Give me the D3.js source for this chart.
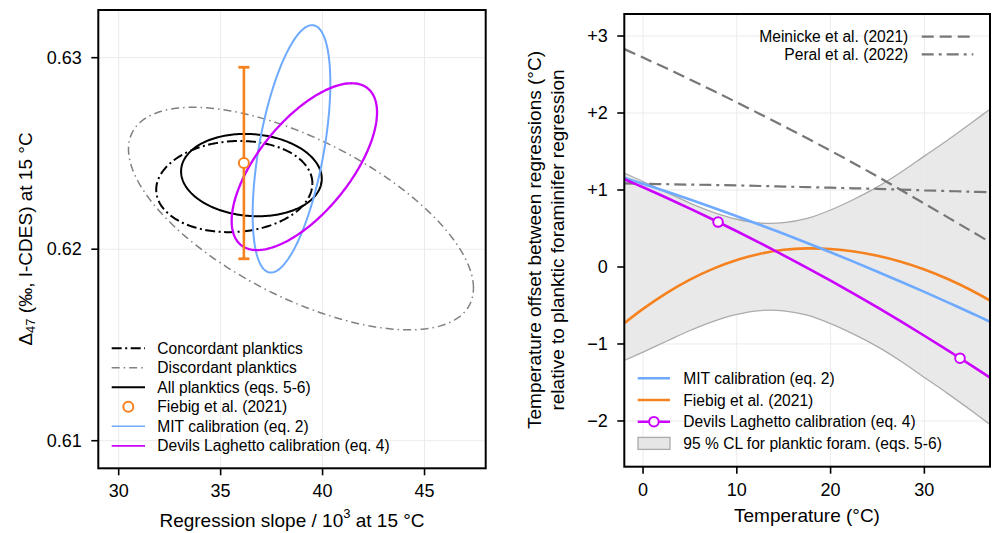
<!DOCTYPE html>
<html>
<head>
<meta charset="utf-8">
<script src="https://cdn.jsdelivr.net/npm/d3@7"></script>
<style>
  body { margin: 0; background: #fff; }
  svg text { font-family: "Liberation Sans", Arial, Helvetica, sans-serif; fill: #000; }
</style>
</head>
<body>
<svg id="fig" width="995" height="533"></svg>
<script>
// ---- left panel data: confidence ellipses (slope vs D47 at 15 C) ----
var ellNames  = ["Concordant planktics", "Discordant planktics", "All planktics (eqs. 5-6)",
                 "MIT calibration (eq. 2)", "Devils Laghetto calibration (eq. 4)"];
var ellCX     = [35.67, 38.94, 36.51, 38.475, 39.105];
var ellCY     = [0.62327, 0.6216, 0.62387, 0.62524, 0.62431];
var ellHalfX  = [3.83, 8.46, 3.45, 1.905, 3.565];
var ellHalfY  = [0.00238, 0.00581, 0.00215, 0.00646, 0.004355];
var ellRho    = [0.07, -0.625, -0.09, 0.53, 0.65];

var fiebigSlope = 36.14, fiebigD47 = 0.6245, fiebigErr = 0.0050;

var leftXTicks = [30, 35, 40, 45];
var leftYTicks = [0.61, 0.62, 0.63];

// ---- right panel data: temperature offsets vs temperature ----
var temps    = [-2, 0, 2.5, 5, 7.5, 10, 12.5, 15, 17.5, 20, 22.5, 25, 27.5, 30, 32.5, 35, 37];
var mit      = [1.16, 1.081, 0.98, 0.876, 0.769, 0.659, 0.546, 0.431, 0.312, 0.191, 0.066, -0.061, -0.191, -0.324, -0.459, -0.598, -0.711];
var fiebig   = [-0.73, -0.544, -0.339, -0.164, -0.021, 0.091, 0.172, 0.223, 0.242, 0.233, 0.201, 0.147, 0.069, -0.032, -0.156, -0.302, -0.436];
var devils   = [1.14, 1.035, 0.899, 0.758, 0.614, 0.464, 0.31, 0.152, -0.011, -0.178, -0.35, -0.526, -0.707, -0.893, -1.083, -1.277, -1.436];
var clUpper  = [1.22, 1.11, 0.97, 0.83, 0.71, 0.62, 0.571, 0.575, 0.63, 0.74, 0.88, 1.04, 1.23, 1.44, 1.65, 1.87, 2.05];
var clLower  = [-1.215, -1.105, -0.965, -0.825, -0.705, -0.615, -0.566, -0.57, -0.625, -0.735, -0.875, -1.035, -1.225, -1.435, -1.645, -1.865, -2.045];
var meinicke = [2.83, 2.72, 2.58, 2.435, 2.288, 2.138, 1.985, 1.83, 1.672, 1.51, 1.345, 1.175, 1.0, 0.823, 0.645, 0.466, 0.323];
var peral    = [1.085, 1.08, 1.075, 1.07, 1.065, 1.06, 1.052, 1.045, 1.037, 1.03, 1.022, 1.015, 1.005, 0.995, 0.987, 0.978, 0.97];
var devilsMarkT = [8.0, 33.8];
var devilsMarkV = [0.584, -1.185];

var rightXTicks = [0, 10, 20, 30];
var rightYTicks = [-2, -1, 0, 1, 2, 3];

var BLUE = "#6eaaff", ORANGE = "#f5821f", PURPLE = "#cc00ff", GREY = "#777";
var LEG_FONT = "15.6px";

var svg = d3.select("#fig");

function grid(g, x, y, xt, yt) {
  var x0 = x.range()[0], x1 = x.range()[1], y0 = y.range()[0], y1 = y.range()[1];
  g.selectAll(null).data(xt).enter().append("line")
    .attr("x1", d => x(d)).attr("x2", d => x(d)).attr("y1", y0).attr("y2", y1)
    .attr("stroke", "#ebebeb").attr("stroke-width", 1);
  g.selectAll(null).data(yt).enter().append("line")
    .attr("y1", d => y(d)).attr("y2", d => y(d)).attr("x1", x0).attr("x2", x1)
    .attr("stroke", "#ebebeb").attr("stroke-width", 1);
}

function axesOnTop(g, x, y, xt, yt, fmtY) {
  var x0 = x.range()[0], x1 = x.range()[1], y0 = y.range()[0], y1 = y.range()[1];
  g.append("rect").attr("x", x0).attr("y", y1).attr("width", x1 - x0).attr("height", y0 - y1)
    .attr("fill", "none").attr("stroke", "#000").attr("stroke-width", 2);
  g.selectAll(null).data(xt).enter().append("line")
    .attr("x1", d => x(d)).attr("x2", d => x(d)).attr("y1", y0).attr("y2", y0 + 7)
    .attr("stroke", "#000").attr("stroke-width", 1.6);
  g.selectAll(null).data(xt).enter().append("text")
    .attr("x", d => x(d)).attr("y", y0 + 23).attr("dominant-baseline", "central")
    .attr("text-anchor", "middle").style("font-size", "18px").text(d => d);
  g.selectAll(null).data(yt).enter().append("line")
    .attr("y1", d => y(d)).attr("y2", d => y(d)).attr("x1", x0).attr("x2", x0 - 7)
    .attr("stroke", "#000").attr("stroke-width", 1.6);
  g.selectAll(null).data(yt).enter().append("text")
    .attr("x", x0 - 16.5).attr("y", d => y(d)).attr("dominant-baseline", "central")
    .attr("text-anchor", "end").style("font-size", "18px").text(fmtY);
}

/* ---------------- left panel ---------------- */
var xL = d3.scaleLinear().domain([29, 48]).range([98.3, 485.7]);
var yL = d3.scaleLinear().domain([0.60856, 0.63249]).range([468.3, 10]);
var gL = svg.append("g");
grid(gL, xL, yL, leftXTicks, leftYTicks);

var ellStyles = [
  { stroke: "#000", width: 2, dash: "10,3.5,2,3.5" },
  { stroke: "#808080", width: 1.5, dash: "8,4,1.5,4" },
  { stroke: "#000", width: 2, dash: null },
  { stroke: BLUE, width: 2, dash: null },
  { stroke: PURPLE, width: 2.3, dash: null }
];

function ellipsePts(i) {
  var pts = [], s = Math.sqrt(1 - ellRho[i] * ellRho[i]);
  for (var k = 0; k <= 240; k++) {
    var t = 2 * Math.PI * k / 240;
    pts.push([ellCX[i] + ellHalfX[i] * Math.cos(t),
              ellCY[i] + ellHalfY[i] * (ellRho[i] * Math.cos(t) + s * Math.sin(t))]);
  }
  return pts;
}
var ellLine = d3.line().x(d => xL(d[0])).y(d => yL(d[1]));
// draw order: discordant, concordant, all, MIT, devils
[1, 0, 2, 3, 4].forEach(function (i) {
  gL.append("path").attr("d", ellLine(ellipsePts(i)))
    .attr("fill", "none").attr("stroke", ellStyles[i].stroke)
    .attr("stroke-width", ellStyles[i].width)
    .attr("stroke-dasharray", ellStyles[i].dash);
});

// Fiebig point with error bar
var fx = xL(fiebigSlope);
gL.append("line").attr("x1", fx).attr("x2", fx)
  .attr("y1", yL(fiebigD47 - fiebigErr)).attr("y2", yL(fiebigD47 + fiebigErr))
  .attr("stroke", ORANGE).attr("stroke-width", 2.6);
[fiebigD47 - fiebigErr, fiebigD47 + fiebigErr].forEach(function (v) {
  gL.append("line").attr("x1", fx - 5.5).attr("x2", fx + 5.5).attr("y1", yL(v)).attr("y2", yL(v))
    .attr("stroke", ORANGE).attr("stroke-width", 2.8);
});
gL.append("circle").attr("cx", fx).attr("cy", yL(fiebigD47)).attr("r", 5)
  .attr("fill", "#fff").attr("stroke", ORANGE).attr("stroke-width", 2);

axesOnTop(gL, xL, yL, leftXTicks, leftYTicks, d => d.toFixed(2));

// left legend
var legL = [
  { label: ellNames[0], type: "line", st: ellStyles[0] },
  { label: ellNames[1], type: "line", st: ellStyles[1] },
  { label: ellNames[2], type: "line", st: ellStyles[2] },
  { label: "Fiebig et al. (2021)", type: "circle" },
  { label: ellNames[3], type: "line", st: { stroke: BLUE, width: 1.5 } },
  { label: ellNames[4], type: "line", st: { stroke: PURPLE, width: 1.8 } }
];
legL.forEach(function (d, i) {
  var yy = 348.3 + i * 19.5;
  if (d.type === "line") {
    gL.append("line").attr("x1", 111.7).attr("x2", 145).attr("y1", yy).attr("y2", yy)
      .attr("stroke", d.st.stroke).attr("stroke-width", d.st.width)
      .attr("stroke-dasharray", d.st.dash || null);
  } else {
    gL.append("circle").attr("cx", 128.3).attr("cy", yy).attr("r", 5)
      .attr("fill", "#fff").attr("stroke", ORANGE).attr("stroke-width", 2);
  }
  gL.append("text").attr("x", 157.3).attr("y", yy).attr("dominant-baseline", "central")
    .style("font-size", LEG_FONT).text(d.label);
});

// left axis labels
var xlabL = gL.append("text").attr("x", 292).attr("y", 520).attr("text-anchor", "middle")
  .attr("dominant-baseline", "central").style("font-size", "19px");
xlabL.append("tspan").text("Regression slope / 10");
xlabL.append("tspan").attr("dy", -7).style("font-size", "13px").text("3");
xlabL.append("tspan").attr("dy", 7).text(" at 15 °C");

var ylabL = gL.append("text").attr("transform", "translate(25,239) rotate(-90)")
  .attr("text-anchor", "middle").attr("dominant-baseline", "central").style("font-size", "19px");
ylabL.append("tspan").text("Δ");
ylabL.append("tspan").attr("dy", 5).style("font-size", "13px").text("47");
ylabL.append("tspan").attr("dy", -5).text(" (‰, I-CDES) at 15 °C");

/* ---------------- right panel ---------------- */
var xR = d3.scaleLinear().domain([-2, 37]).range([624.3, 990]);
var yR = d3.scaleLinear().domain([-2.594, 3.286]).range([466.7, 14]);
var gR = svg.append("g");
svg.append("clipPath").attr("id", "clipR").append("rect")
  .attr("x", 624.3).attr("y", 14).attr("width", 990 - 624.3).attr("height", 466.7 - 14);

var band = temps.map((t, i) => ({ t: t, lo: clLower[i], hi: clUpper[i] }));
gR.append("path").datum(band).attr("clip-path", "url(#clipR)")
  .attr("d", d3.area().x(d => xR(d.t)).y0(d => yR(d.lo)).y1(d => yR(d.hi)).curve(d3.curveCatmullRom))
  .attr("fill", "#e9e9e9").attr("stroke", "none");

grid(gR, xR, yR, rightXTicks, rightYTicks);

var curve = d3.line().x(d => xR(d[0])).y(d => yR(d[1])).curve(d3.curveCatmullRom);
function series(vals, color, w, dash) {
  gR.append("path").datum(temps.map((t, i) => [t, vals[i]])).attr("clip-path", "url(#clipR)")
    .attr("d", curve).attr("fill", "none").attr("stroke", color)
    .attr("stroke-width", w).attr("stroke-dasharray", dash || null);
}
series(clUpper, "#ababab", 1.3);
series(clLower, "#ababab", 1.3);
series(meinicke, GREY, 2.2, "12,6");
series(peral, GREY, 2.2, "12,5,3,5");
series(fiebig, ORANGE, 2.6);
series(mit, BLUE, 2.6);
series(devils, PURPLE, 2.6);
gR.selectAll(null).data(devilsMarkT).enter().append("circle")
  .attr("cx", d => xR(d)).attr("cy", (d, i) => yR(devilsMarkV[i])).attr("r", 4.8)
  .attr("fill", "#fff").attr("stroke", PURPLE).attr("stroke-width", 2);

axesOnTop(gR, xR, yR, rightXTicks, rightYTicks,
  d => d > 0 ? "+" + d : d < 0 ? "\u2212" + Math.abs(d) : "0");

// right bottom legend
var legR = [
  { label: "MIT calibration (eq. 2)", color: BLUE },
  { label: "Fiebig et al. (2021)", color: ORANGE },
  { label: "Devils Laghetto calibration (eq. 4)", color: PURPLE, marker: true },
  { label: "95 % CL for planktic foram. (eqs. 5-6)", patch: true }
];
legR.forEach(function (d, i) {
  var yy = 378.3 + i * 21.7;
  if (d.patch) {
    gR.append("rect").attr("x", 638).attr("y", yy - 6).attr("width", 32).attr("height", 12)
      .attr("fill", "#e6e6e6").attr("stroke", "#ababab").attr("stroke-width", 1.3);
  } else {
    gR.append("line").attr("x1", 637.7).attr("x2", 670).attr("y1", yy).attr("y2", yy)
      .attr("stroke", d.color).attr("stroke-width", 2.6);
    if (d.marker) {
      gR.append("circle").attr("cx", 653.9).attr("cy", yy).attr("r", 4.8)
        .attr("fill", "#fff").attr("stroke", d.color).attr("stroke-width", 2);
    }
  }
  gR.append("text").attr("x", 683.3).attr("y", yy).attr("dominant-baseline", "central")
    .style("font-size", LEG_FONT).text(d.label);
});

// right top legend
var legTop = [
  { label: "Meinicke et al. (2021)", dash: "12,6", y: 36.7 },
  { label: "Peral et al. (2022)", dash: "12,5,3,5", y: 54.3 }
];
legTop.forEach(function (d) {
  gR.append("line").attr("x1", 921.7).attr("x2", 973.3).attr("y1", d.y).attr("y2", d.y)
    .attr("stroke", GREY).attr("stroke-width", 2.2).attr("stroke-dasharray", d.dash);
  gR.append("text").attr("x", 908.3).attr("y", d.y).attr("text-anchor", "end")
    .attr("dominant-baseline", "central").style("font-size", LEG_FONT).text(d.label);
});

// right axis labels
gR.append("text").attr("x", 807).attr("y", 515).attr("text-anchor", "middle")
  .attr("dominant-baseline", "central").style("font-size", "19px").text("Temperature (°C)");
gR.append("text").attr("transform", "translate(534,240) rotate(-90)")
  .attr("text-anchor", "middle").attr("dominant-baseline", "central").style("font-size", "19px")
  .text("Temperature offset between regressions (°C)");
gR.append("text").attr("transform", "translate(557,240) rotate(-90)")
  .attr("text-anchor", "middle").attr("dominant-baseline", "central").style("font-size", "19px")
  .text("relative to planktic foraminifer regression");
</script>
</body>
</html>
